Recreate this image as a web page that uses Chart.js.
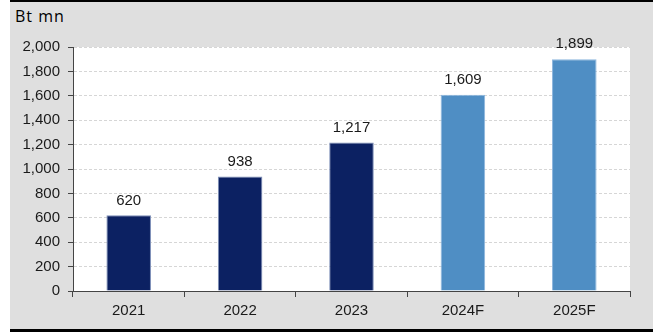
<!DOCTYPE html>
<html>
<head>
<meta charset="utf-8">
<script src="https://cdn.jsdelivr.net/npm/chart.js@4/dist/chart.umd.min.js"></script>
<style>
  html, body { margin: 0; padding: 0; background: #fff; }
  #wrap { position: relative; width: 658px; height: 332px; }
  #panel {
    position: absolute; left: 10px; top: 0; width: 643px; height: 332px;
    box-sizing: border-box; background: #dfdfdf;
    border-top: 2px solid #000; border-bottom: 3px solid #000;
  }
  #unit {
    position: absolute; left: 15px; top: 5px;
    font: 16px "Open Sans", sans-serif; color: #000; letter-spacing: 1px;
  }
  #box { position: absolute; left: 0; top: 0; width: 658px; height: 332px; }
</style>
</head>
<body>
<div id="wrap">
  <div id="panel"></div>
  <div id="unit">Bt mn</div>
  <div id="box"><canvas id="chart"></canvas></div>
</div>
<script>
const years = ["2021", "2022", "2023", "2024F", "2025F"];
const profit = [620, 938, 1217, 1609, 1899];
const isForecast = [false, false, false, true, true];

const NAVY = "#0c2162";
const LIGHT = "#4f8ec4";
const FONT = "'Liberation Sans', Arial, sans-serif";

// white plot area on the grey panel
const plotBg = {
  id: "plotBg",
  beforeDraw(chart) {
    const { ctx, chartArea: a } = chart;
    ctx.save();
    ctx.fillStyle = "#fff";
    ctx.fillRect(a.left, a.top, a.right - a.left, a.bottom - a.top);
    ctx.restore();
  }
};

// value labels above each bar
const valueLabels = {
  id: "valueLabels",
  afterDatasetsDraw(chart) {
    const { ctx } = chart;
    const meta = chart.getDatasetMeta(0);
    ctx.save();
    ctx.fillStyle = "#1a1a1a";
    ctx.font = `15px ${FONT}`;
    ctx.textAlign = "center";
    ctx.textBaseline = "middle";
    meta.data.forEach((bar, i) => {
      ctx.fillText(profit[i].toLocaleString("en-US"), bar.x, bar.y - 15);
    });
    ctx.restore();
  }
};

new Chart(document.getElementById("chart"), {
  type: "bar",
  data: {
    labels: years,
    datasets: [{
      data: profit,
      backgroundColor: isForecast.map(f => f ? LIGHT : NAVY),
      borderColor: isForecast.map(f => f ? "#8db6de" : "#7d8fb8"),
      borderWidth: 1,
      barPercentage: 0.4,
      categoryPercentage: 1
    }]
  },
  options: {
    responsive: true,
    maintainAspectRatio: false,
    animation: false,
    layout: { padding: { left: 0, right: 28, top: 47, bottom: 0 } },
    plugins: { legend: { display: false }, tooltip: { enabled: false } },
    scales: {
      x: {
        offset: true,
        grid: { offset: true, drawOnChartArea: false, drawTicks: true, tickLength: 6, color: "#444" },
        border: { color: "#444", width: 1 },
        ticks: { color: "#1a1a1a", padding: 5, font: { family: FONT, size: 15 } },
        afterFit: (s) => { s.height = 41; }
      },
      y: {
        min: 0, max: 2000,
        ticks: {
          stepSize: 200, color: "#1a1a1a", padding: 8,
          font: { family: FONT, size: 15 },
          callback: (v) => v.toLocaleString("en-US")
        },
        grid: {
          color: "#d6d6d6",
          tickColor: "#444",
          tickLength: 5,
          tickBorderDash: []
        },
        // dashed gridlines, solid axis line
        border: { color: "#444", width: 1, dash: [3, 2] },
        afterFit: (s) => { s.width = 73; }
      }
    }
  },
  plugins: [plotBg, valueLabels]
});
</script>
</body>
</html>
